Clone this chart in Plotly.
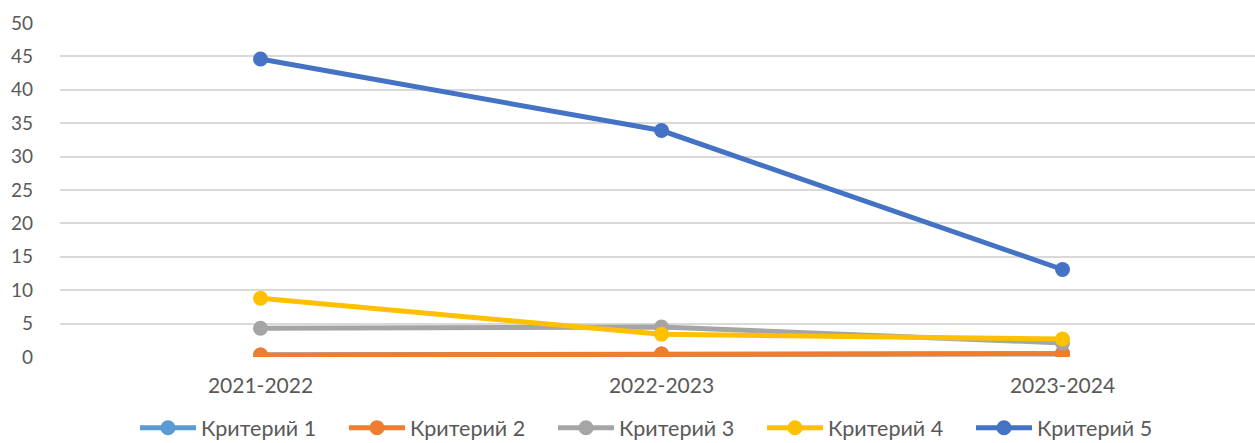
import plotly.graph_objects as go

categories = ["2021-2022", "2022-2023", "2023-2024"]
series_names = ["Критерий 1", "Критерий 2", "Критерий 3", "Критерий 4", "Критерий 5"]
k1 = [0.3, 0.45, 0.5]
k2 = [0.3, 0.45, 0.5]
k3 = [4.3, 4.5, 2.1]
k4 = [8.8, 3.4, 2.7]
k5 = [44.6, 33.9, 13.1]
values = [k1, k2, k3, k4, k5]
colors = ["#5B9BD5", "#ED7D31", "#A5A5A5", "#FFC000", "#4472C4"]
y_ticks = [0, 5, 10, 15, 20, 25, 30, 35, 40, 45, 50]

fig = go.Figure()
for name, vals, col in zip(series_names, values, colors):
    fig.add_trace(go.Scatter(
        x=categories, y=vals, name=name, mode="lines+markers",
        line=dict(color=col, width=5),
        marker=dict(color=col, size=15),
    ))

fig.update_layout(
    width=1255, height=443,
    margin=dict(l=60, r=0, t=23, b=86, autoexpand=False),
    paper_bgcolor="white", plot_bgcolor="white",
    font=dict(family="Lato, Open Sans, sans-serif", size=19, color="#595959"),
    showlegend=True,
    legend=dict(orientation="h", x=0.5, xanchor="center", y=-0.212, yanchor="middle",
                font=dict(size=21.5, color="#595959"), entrywidth=138, itemwidth=56,
                tracegroupgap=0),
)
fig.update_xaxes(type="category", range=[-0.5, 2.48], showgrid=False, showline=False,
                 zeroline=False, ticks="", ticklen=0, tickfont=dict(size=21, color="#595959"),
                 ticklabelstandoff=14)
fig.update_yaxes(range=[0, 50], tickvals=y_ticks, showgrid=True, gridcolor="#D9D9D9",
                 gridwidth=1.5, zeroline=False, showline=False, ticks="",
                 tickfont=dict(size=19, color="#595959"), ticklabelstandoff=26)

fig.write_html("out.html", config={"displayModeBar": False},
               post_script="document.body.style.margin='0';document.body.style.overflow='hidden';")
